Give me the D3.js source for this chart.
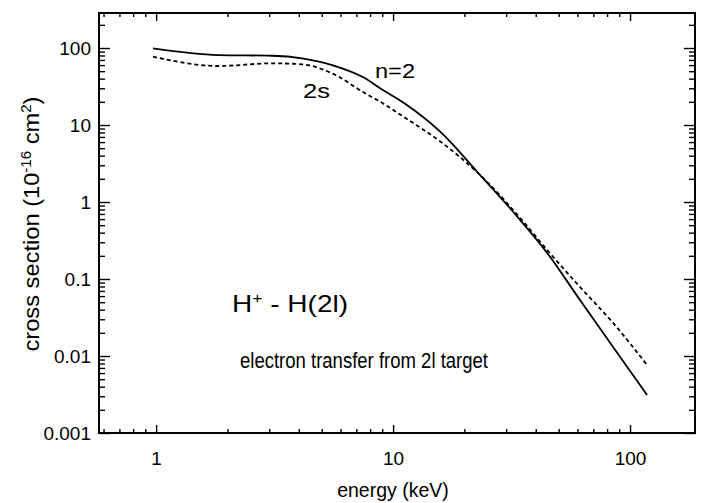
<!DOCTYPE html>
<html>
<head>
<meta charset="utf-8">
<script src="https://cdn.jsdelivr.net/npm/d3@7"></script>
<style>
  html, body { margin: 0; padding: 0; background: #fff; }
  svg { display: block; }
  text { font-family: "Liberation Sans", Arial, Helvetica, sans-serif; fill: #000; }
</style>
</head>
<body>
<svg id="chart" width="707" height="503"></svg>
<script>
// ---- data ----
const energy = [0.97, 1.83, 3.09, 4.13, 5.53, 7.62, 8.81, 11.2, 15.8, 23.3, 34.4, 44.7, 61.5, 84.8, 118];
const sigmaN2 = [99, 81, 79.4, 73.5, 60.1, 40.4, 30.0, 19.0, 8.2, 2.24, 0.583, 0.218, 0.0533, 0.0131, 0.00312];
const sigma2s = [77.1, 58.4, 63.3, 61.4, 46.9, 25.8, 20.1, 12.5, 6.12, 2.24, 0.62, 0.238, 0.0787, 0.0269, 0.00764];
const xTickValues = [1, 10, 100];
const xTickLabels = ["1", "10", "100"];
const yTickValues = [0.001, 0.01, 0.1, 1, 10, 100];
const yTickLabels = ["0.001", "0.01", "0.1", "1", "10", "100"];
const xDomain = [0.574, 188];
const yDomain = [0.001, 285];

// ---- layout ----
const W = 707, H = 503;
const margin = { left: 99, right: 12, top: 13, bottom: 70 };
const iw = W - margin.left - margin.right;
const ih = H - margin.top - margin.bottom;

const svg = d3.select("#chart");
const g = svg.append("g").attr("transform", `translate(${margin.left},${margin.top})`);

const x = d3.scaleLog().domain(xDomain).range([0, iw]);
const y = d3.scaleLog().domain(yDomain).range([ih, 0]);

function minorTicks(domain) {
  const out = [];
  const lo = Math.floor(Math.log10(domain[0])), hi = Math.ceil(Math.log10(domain[1]));
  for (let e = lo; e <= hi; e++) {
    for (let m = 2; m <= 9; m++) {
      const v = m * Math.pow(10, e);
      if (v >= domain[0] && v <= domain[1]) out.push(v);
    }
  }
  return out;
}
const xMinor = minorTicks(xDomain);
const yMinor = minorTicks(yDomain);

function styleAxis(sel) {
  sel.select(".domain").remove();
  sel.selectAll("line").attr("stroke", "#000").attr("stroke-width", 1.4);
}

// bottom axis: major with labels, then minor
g.append("g").attr("transform", `translate(0,${ih})`)
  .call(d3.axisBottom(x).tickValues(xTickValues).tickFormat((d, i) => xTickLabels[i]).tickSize(-8).tickPadding(19))
  .call(styleAxis)
  .call(s => s.selectAll("text").attr("font-size", 19).style("font-family", "Liberation Sans, Arial, sans-serif"));
g.append("g").attr("transform", `translate(0,${ih})`)
  .call(d3.axisBottom(x).tickValues(xMinor).tickFormat("").tickSize(-4))
  .call(styleAxis);
// top axis
g.append("g")
  .call(d3.axisTop(x).tickValues(xTickValues).tickFormat("").tickSize(-8))
  .call(styleAxis);
g.append("g")
  .call(d3.axisTop(x).tickValues(xMinor).tickFormat("").tickSize(-4))
  .call(styleAxis);
// left axis
g.append("g")
  .call(d3.axisLeft(y).tickValues(yTickValues).tickFormat((d, i) => yTickLabels[i]).tickSize(-11).tickPadding(8))
  .call(styleAxis)
  .call(s => s.selectAll("text").attr("font-size", 19).style("font-family", "Liberation Sans, Arial, sans-serif"));
g.append("g")
  .call(d3.axisLeft(y).tickValues(yMinor).tickFormat("").tickSize(-6))
  .call(styleAxis);
// right axis
g.append("g").attr("transform", `translate(${iw},0)`)
  .call(d3.axisRight(y).tickValues(yTickValues).tickFormat("").tickSize(-11))
  .call(styleAxis);
g.append("g").attr("transform", `translate(${iw},0)`)
  .call(d3.axisRight(y).tickValues(yMinor).tickFormat("").tickSize(-6))
  .call(styleAxis);

// frame
g.append("rect").attr("x", 0).attr("y", 0).attr("width", iw).attr("height", ih)
  .attr("fill", "none").attr("stroke", "#000").attr("stroke-width", 2);

// curves
const line = d3.line().x(d => x(d[0])).y(d => y(d[1])).curve(d3.curveMonotoneX);
g.append("path").datum(energy.map((e, i) => [e, sigmaN2[i]]))
  .attr("d", line).attr("fill", "none").attr("stroke", "#000").attr("stroke-width", 1.8);
g.append("path").datum(energy.map((e, i) => [e, sigma2s[i]]))
  .attr("d", line).attr("fill", "none").attr("stroke", "#000").attr("stroke-width", 1.8)
  .attr("stroke-dasharray", "4,3");

// curve labels
svg.append("text").attr("x", 375).attr("y", 78).attr("font-size", 20)
  .attr("textLength", 40).attr("lengthAdjust", "spacingAndGlyphs").text("n=2");
svg.append("text").attr("x", 303).attr("y", 98).attr("font-size", 21)
  .attr("textLength", 27).attr("lengthAdjust", "spacingAndGlyphs").text("2s");

// annotations
const t1 = svg.append("text").attr("x", 232).attr("y", 312).attr("font-size", 24)
  .attr("textLength", 116).attr("lengthAdjust", "spacingAndGlyphs");
t1.append("tspan").text("H");
t1.append("tspan").attr("dy", -9).attr("font-size", 15).text("+");
t1.append("tspan").attr("dy", 9).text(" - H(2l)");

svg.append("text").attr("x", 240).attr("y", 368).attr("font-size", 21.5)
  .attr("textLength", 248).attr("lengthAdjust", "spacingAndGlyphs")
  .text("electron transfer from 2l target");

// axis titles
svg.append("text").attr("x", 393).attr("y", 497).attr("font-size", 19.5)
  .attr("text-anchor", "middle").text("energy (keV)");

const yt = svg.append("text").attr("transform", "translate(39,224) rotate(-90)")
  .attr("text-anchor", "middle").attr("font-size", 22)
  .attr("textLength", 255).attr("lengthAdjust", "spacingAndGlyphs");
yt.append("tspan").text("cross section (10");
yt.append("tspan").attr("dy", -8).attr("font-size", 14).text("-16");
yt.append("tspan").attr("dy", 8).text(" cm");
yt.append("tspan").attr("dy", -8).attr("font-size", 14).text("2");
yt.append("tspan").attr("dy", 8).text(")");
</script>
</body>
</html>
